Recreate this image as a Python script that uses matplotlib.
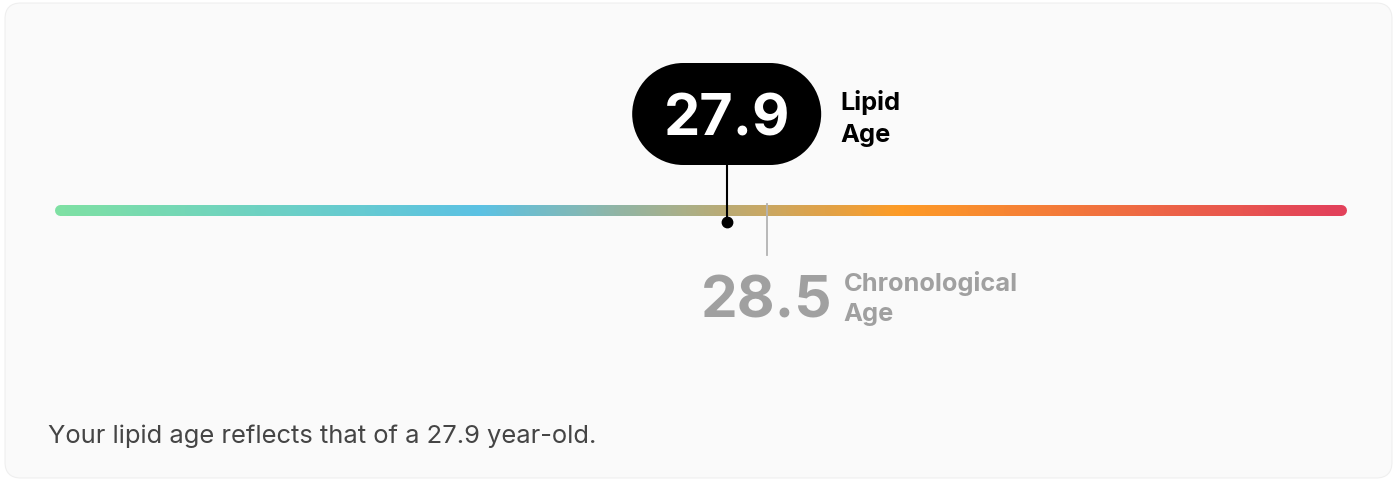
"""Lipid age vs chronological age gauge."""

import matplotlib

matplotlib.use("Agg")

import matplotlib.pyplot as plt
import numpy as np
from matplotlib.collections import LineCollection
from matplotlib.colors import LinearSegmentedColormap
from matplotlib.patches import Circle, FancyBboxPatch, Rectangle
from matplotlib.transforms import ScaledTranslation

# data
scale_range = [17.9, 37.1]
lipid_age = 27.9
chrono_age = 28.5
lipid_label = ["Lipid", "Age"]
chrono_label = ["Chronological", "Age"]
footer = "Your lipid age reflects that of a 27.9 year-old."
gradient_stops = [0.0, 0.33, 0.66, 1.0]
gradient_colors = ["#7ee0a3", "#5bc1e3", "#fd9b26", "#e2415a"]

# layout (pixels, y from top)
W, H, DPI = 1396, 480, 100
BAR_LEFT_PX, BAR_RIGHT_PX = 59.5, 1340.5
BAR_Y = 209.5
FONT = "Inter"

plt.rcParams["font.family"] = [FONT, "DejaVu Sans"]

fig = plt.figure(figsize=(W / DPI, H / DPI), dpi=DPI)
fig.patch.set_facecolor("white")

card = FancyBboxPatch(
    (0.05, 0.02), 13.87, 4.75,
    boxstyle="round,pad=0,rounding_size=0.16",
    transform=fig.dpi_scale_trans,
    facecolor="#fafafa", edgecolor="#efefef", linewidth=0.8, zorder=-1,
)
fig.add_artist(card)

ax = fig.add_axes([0, 0, 1, 1])
ax.axis("off")
ax.patch.set_alpha(0)

lo, hi = scale_range
ppy = (BAR_RIGHT_PX - BAR_LEFT_PX) / (hi - lo)
ax.set_xlim(lo - BAR_LEFT_PX / ppy, lo + (W - BAR_LEFT_PX) / ppy)
ax.set_ylim(H, 0)

# gradient bar
cmap = LinearSegmentedColormap.from_list(
    "lipid", list(zip(gradient_stops, gradient_colors))
)
xs = np.linspace(lo, hi, 500)
segments = [[(a, BAR_Y), (b, BAR_Y)] for a, b in zip(xs[:-1], xs[1:])]
bar = LineCollection(
    segments,
    colors=cmap(np.linspace(0, 1, len(segments))),
    linewidths=11 * 72 / DPI,
    capstyle="round",
    zorder=2,
)
ax.add_collection(bar)

# lipid age marker: stadium-shaped pill, sized in inches around the value
pill_trans = fig.dpi_scale_trans + ScaledTranslation(lipid_age, 114, ax.transData)
half_w, r = 0.945, 0.51
for part in [
    Rectangle((-(half_w - r), -r), 2 * (half_w - r), 2 * r),
    Circle((-(half_w - r), 0), r),
    Circle((half_w - r, 0), r),
]:
    part.set_transform(pill_trans)
    part.set_facecolor("black")
    part.set_edgecolor("none")
    part.set_zorder(4)
    ax.add_patch(part)

ax.plot([lipid_age, lipid_age], [160, 221.5], color="black", lw=1.5, zorder=3)
ax.plot([lipid_age], [221.5], "o", color="black", ms=7.5, zorder=5)
ax.text(lipid_age, 136, f"{lipid_age}", color="white", fontsize=41.5,
        fontweight="bold", ha="center", va="baseline", zorder=6)
for text, base in zip(lipid_label, [110, 142]):
    ax.annotate(text, (lipid_age, base), xytext=(114, 0),
                textcoords="offset pixels", fontsize=18.3, fontweight="bold",
                color="black", ha="left", va="baseline")

# chronological age marker
chrono_color = "#a0a0a0"
ax.plot([chrono_age, chrono_age], [204, 255], color="#b3b3b3", lw=1.3, zorder=3)
ax.text(chrono_age, 317, f"{chrono_age}", color=chrono_color, fontsize=42,
        fontweight="bold", ha="center", va="baseline")
for text, base in zip(chrono_label, [291, 321]):
    ax.annotate(text, (chrono_age, base), xytext=(77, 0),
                textcoords="offset pixels", fontsize=18.3, fontweight="bold",
                color=chrono_color, ha="left", va="baseline")

fig.text(48 / W, 1 - 443 / H, footer, fontsize=18.4, color="#454545",
         ha="left", va="baseline")

fig.savefig("out.png", dpi=DPI)
